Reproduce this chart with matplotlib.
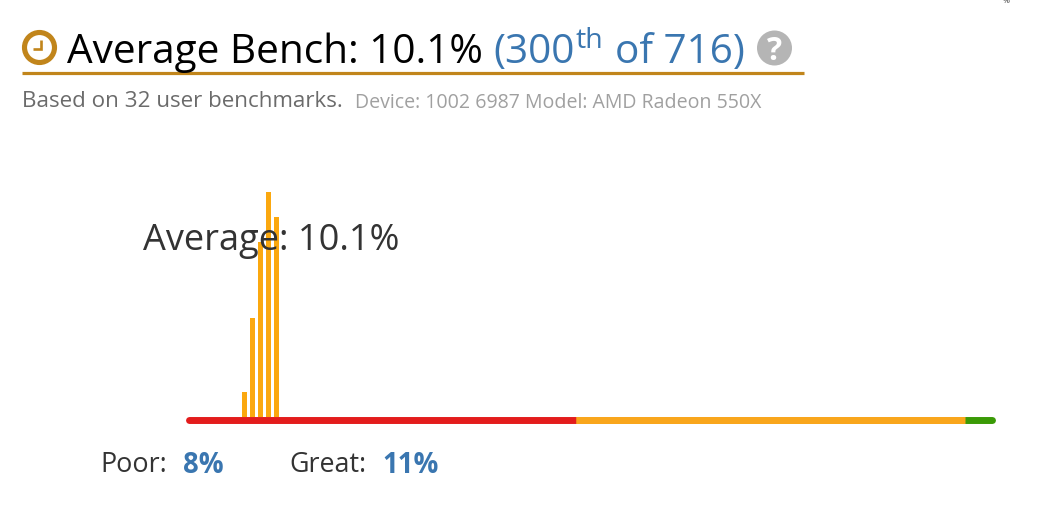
import matplotlib
matplotlib.use('Agg')
import matplotlib.pyplot as plt
from matplotlib.patches import Circle

# distribution of user benchmarks, height relative to the tallest bin
bins = [7, 8, 9, 10, 11]
freq = [11, 44, 78, 100, 89]

# coloured scale under the bars
seg_edges = [0.3, 48.6, 97.2, 100.6]
seg_colors = ['#e31c1c', '#f9a61c', '#3a9a06']

title = 'Average Bench: 10.1%'
rank = '(300'
rank_sup = 'th'
rank_end = 'of 716)'
sub1 = 'Based on 32 user benchmarks.'
sub2 = 'Device: 1002 6987 Model: AMD Radeon 550X'
avg_label = 'Average: 10.1%'
poor_val = '8%'
great_val = '11%'

W, H = 1057, 512
GOLD = '#c1851b'
BLUE = '#3a76b0'
DARK = '#333333'

plt.rcParams['font.family'] = ['Open Sans', 'DejaVu Sans']

fig = plt.figure(figsize=(W / 100, H / 100), dpi=100)

# overlay in pixel coords for the header and labels
bg = fig.add_axes([0, 0, 1, 1])
bg.set_xlim(0, W)
bg.set_ylim(H, 0)
bg.axis('off')

# clock icon
bg.add_patch(Circle((39.5, 47.5), 15, fc='none', ec=GOLD, lw=3.7))
bg.plot([40.5, 40.5, 33], [40, 49.2, 49.2], color=GOLD, lw=1.9, solid_capstyle='butt', solid_joinstyle='miter')

bg.text(67, 48, title, fontsize=29.2, color='black', va='center_baseline')
bg.text(493, 48, rank, fontsize=29.2, color=BLUE, va='center_baseline')
bg.text(576, 37, rank_sup, fontsize=20.5, color=BLUE, va='center_baseline')
bg.text(615, 48, rank_end, fontsize=29.2, color=BLUE, va='center_baseline')

# help icon
bg.add_patch(Circle((774.5, 48), 17.5, fc='#b5b5b5', ec='none'))
bg.text(774.5, 48, '?', fontsize=23, color='white', fontweight='bold', ha='center', va='center_baseline')

bg.plot([22, 804], [73, 73], color=GOLD, lw=2.3, solid_capstyle='butt')

bg.text(22, 99, sub1, fontsize=16.15, color='#6b6b6b', va='center_baseline')
bg.text(355, 100, sub2, fontsize=14.05, color='#a0a0a0', va='center_baseline')

bg.text(100, 462, 'Poor:', fontsize=19.4, color=DARK, va='center_baseline')
bg.text(183, 462, poor_val, fontsize=19.8, color=BLUE, fontweight='bold', va='center_baseline')
bg.text(289, 462, 'Great:', fontsize=19.4, color=DARK, va='center_baseline')
bg.text(382, 462, great_val, fontsize=19.8, color=BLUE, fontweight='bold', va='center_baseline')

# bit of a clipped label at the very top of the screenshot
bg.text(1003, 3, '%', fontsize=6, color='#333333', va='baseline')

# histogram axes, spans the coloured scale
ax = fig.add_axes([187 / W, 1 - 417 / H, (995 - 187) / W, (417 - 192) / H])
ax.set_xlim(0, 101)
ax.set_ylim(0, 100)
ax.axis('off')
ax.patch.set_alpha(0)

ax.bar([b + 0.16 for b in bins], freq, width=0.58, color='#fba80f', edgecolor='none', zorder=2)

for i, c in enumerate(seg_colors):
    cap = 'butt' if i == 1 else 'round'
    ax.plot(seg_edges[i:i + 2], [-1.5, -1.5], color=c, lw=5, solid_capstyle=cap, clip_on=False, zorder=3)
# orange part has square ends over the round caps
ax.plot(seg_edges[1:3], [-1.5, -1.5], color=seg_colors[1], lw=5, solid_capstyle='butt', clip_on=False, zorder=4)

bg.text(143, 236.5, avg_label, fontsize=26, color=DARK, va='center_baseline', zorder=5)
bg.set_zorder(ax.get_zorder() + 1)

fig.savefig('out.png', dpi=100)
